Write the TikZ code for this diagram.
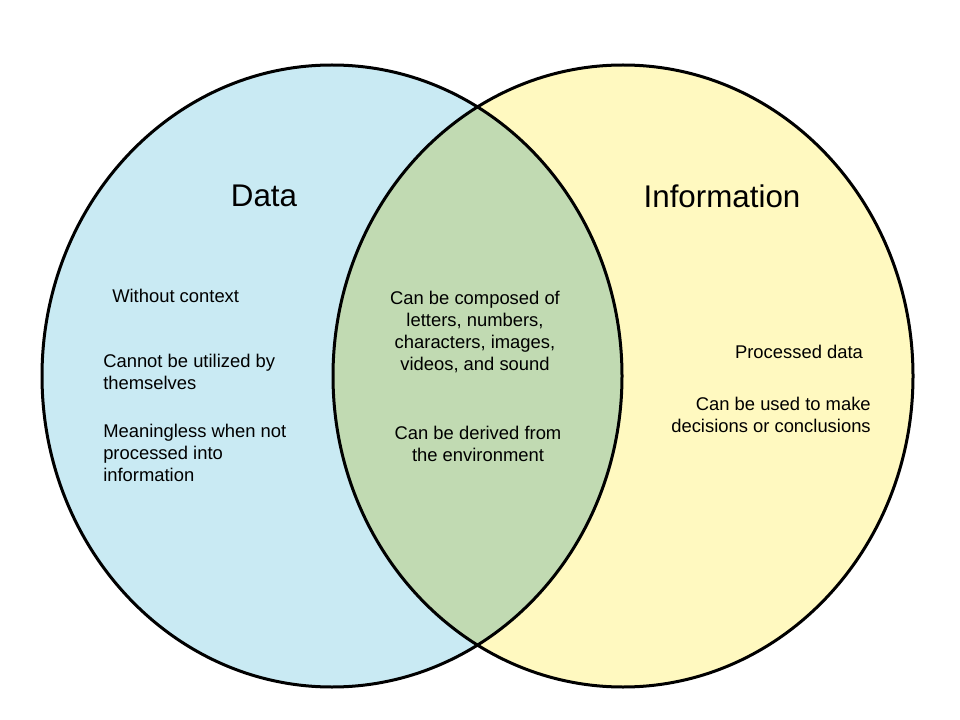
\documentclass[tikz,border=0pt]{standalone}
\usepackage{fontspec}
\setmainfont{Liberation Sans}
\usepackage{tikz}
\usepackage{xcolor}
\definecolor{datablue}{RGB}{201,234,243}
\definecolor{infoyellow}{RGB}{255,249,192}
\definecolor{overlapgreen}{RGB}{193,218,178}
\tikzstyle{title} = [font=\fontsize{23.5}{28}\selectfont]
\tikzstyle{point} = [font=\fontsize{13.8}{16.5}\selectfont, inner sep=0pt]
\tikzstyle{outline} = [draw=black, line width=2.25pt]
\tikzstyle{setsize} = [x radius=217.5pt, y radius=233.25pt]

\begin{document}
\begin{tikzpicture}[x=0.75pt, y=-0.75pt]
		\useasboundingbox (0,0) rectangle (960,720);
		\coordinate (dataC) at (332,376);
		\coordinate (infoC) at (623,376);
		
		\fill [datablue] (dataC) ellipse [setsize];
		\fill [infoyellow] (infoC) ellipse [setsize];
		\begin{scope}
			\clip (dataC) ellipse [setsize];
			\fill [overlapgreen] (infoC) ellipse [setsize];
		\end{scope}
		\draw [outline] (dataC) ellipse [setsize];
		\draw [outline] (infoC) ellipse [setsize];
		
		\node (data) [title] at (264,196) {Data};
		\node (info) [title] at (722,196) {Information};
		
		\node (nocontext) [point, anchor=west] at (112,296) {Without context};
		\node (notalone) [point, align=left, anchor=west] at (103,372) {Cannot be utilized by\\themselves};
		\node (meaningless) [point, align=left, anchor=west] at (103,453) {Meaningless when not\\processed into\\information};
		
		\node (composed) [point, align=center] at (475,332) {Can be composed of\\letters, numbers,\\characters, images,\\videos, and sound};
		\node (derived) [point, align=center] at (478,444) {Can be derived from\\the environment};
		
		\node (processed) [point] at (799,352) {Processed data};
		\node (decisions) [point, align=right, anchor=east] at (871,415) {Can be used to make\\decisions or conclusions};
	\end{tikzpicture}
\end{document}
